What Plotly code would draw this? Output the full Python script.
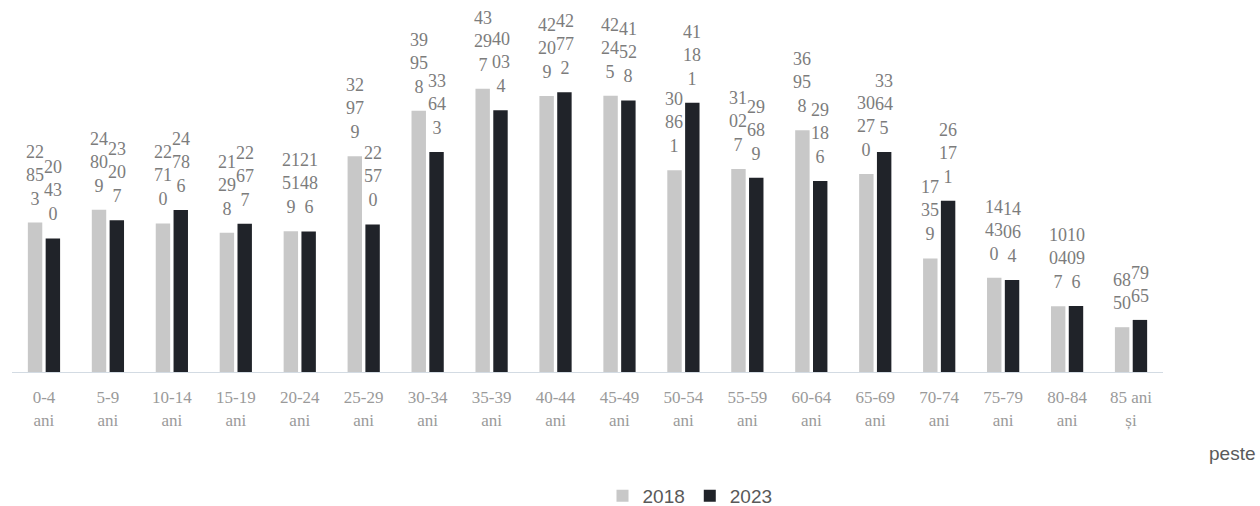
import plotly.graph_objects as go

categories = ["0-4 ani", "5-9 ani", "10-14 ani", "15-19 ani", "20-24 ani", "25-29 ani",
              "30-34 ani", "35-39 ani", "40-44 ani", "45-49 ani", "50-54 ani", "55-59 ani",
              "60-64 ani", "65-69 ani", "70-74 ani", "75-79 ani", "80-84 ani", "85 ani și peste"]
tick_labels = ["0-4<br>ani", "5-9<br>ani", "10-14<br>ani", "15-19<br>ani", "20-24<br>ani",
               "25-29<br>ani", "30-34<br>ani", "35-39<br>ani", "40-44<br>ani", "45-49<br>ani",
               "50-54<br>ani", "55-59<br>ani", "60-64<br>ani", "65-69<br>ani", "70-74<br>ani",
               "75-79<br>ani", "80-84<br>ani", "85 ani<br>și"]
values_2018 = [22853, 24809, 22710, 21298, 21519, 32979, 39958, 43297, 42209, 42245,
               30861, 31027, 36958, 30270, 17359, 14430, 10047, 6850]
values_2023 = [20430, 23207, 24786, 22677, 21486, 22570, 33643, 40034, 42772, 41528,
               41181, 29689, 29186, 33645, 26171, 14064, 10096, 7965]
series_names = ["2018", "2023"]

C18 = "#c8c8c8"
C23 = "#202329"
LABEL_COLOR = "#7c7c7c"
TICK_COLOR = "#9a9a9a"
SERIF = "Liberation Serif, Times New Roman, serif"
SANS = "Liberation Sans, Arial, sans-serif"

# plot area in pixels (for placing stray text)
L, R, T, B = 12, 1163, 45, 372


def wrap(v):
    s = str(v)
    return "<br>".join(s[i:i + 2] for i in range(0, len(s), 2))


fig = go.Figure()
fig.add_trace(go.Bar(x=categories, y=values_2018, name=series_names[0],
                     marker=dict(color=C18, line=dict(width=0))))
fig.add_trace(go.Bar(x=categories, y=values_2023, name=series_names[1],
                     marker=dict(color=C23, line=dict(width=0))))

annotations = []
for vals, dx in ((values_2018, -9), (values_2023, 9)):
    for c, v in zip(categories, vals):
        annotations.append(dict(x=c, y=v, xref="x", yref="y", text=wrap(v),
                                showarrow=False, xanchor="center", yanchor="bottom",
                                xshift=dx, yshift=12, align="center",
                                font=dict(family=SERIF, size=18, color=LABEL_COLOR)))

annotations.append(dict(x=(1232 - L) / (R - L), y=(B - 453) / (B - T), xref="paper", yref="paper",
                        text="peste", showarrow=False, xanchor="center", yanchor="middle",
                        font=dict(family=SANS, size=19, color="#5a5a5a")))

fig.update_layout(
    width=1260, height=506,
    margin=dict(l=L, r=1260 - R, t=T, b=506 - B, autoexpand=False),
    paper_bgcolor="white", plot_bgcolor="white",
    barmode="group", bargap=0.443, bargroupgap=0.19,
    showlegend=True,
    legend=dict(orientation="h", x=(690 - L) / (R - L), xanchor="center",
                y=(B - 496) / (B - T), yanchor="middle",
                font=dict(family=SANS, size=19, color="#595959"),
                itemwidth=30, traceorder="normal"),
    annotations=annotations,
)
fig.update_xaxes(tickmode="array", tickvals=categories, ticktext=tick_labels,
                 showline=True, linecolor="#d3dbe3", linewidth=1, ticks="",
                 ticklabelstandoff=10, automargin=False,
                 showgrid=False, tickfont=dict(family=SERIF, size=17, color=TICK_COLOR))
fig.update_yaxes(range=[0, 50000], visible=False, showgrid=False)

fig.write_html("out.html")
